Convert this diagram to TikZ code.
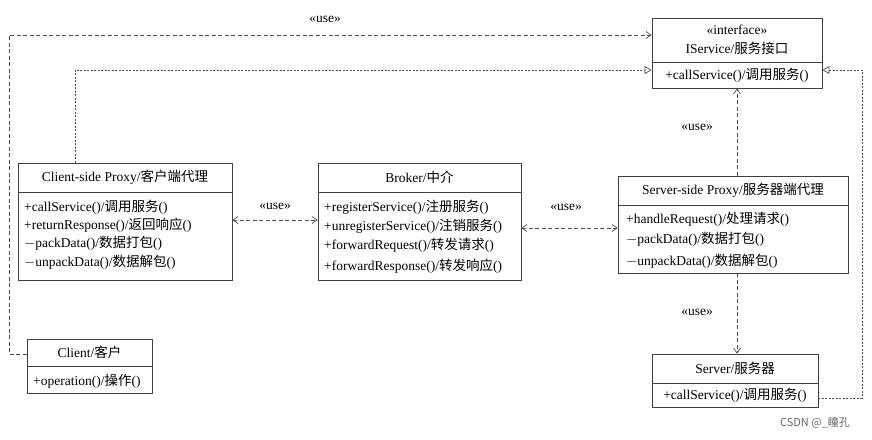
\documentclass[tikz,border=0pt]{standalone}
\usepackage{fontspec}
\setmainfont{Liberation Serif}
\newfontfamily\cjk{Noto Sans CJK SC}
\newcommand{\zh}[1]{{\cjk #1}}
\usetikzlibrary{arrows.meta}
\begin{document}
\begin{tikzpicture}[x=1pt,y=-1pt,font=\fontsize{13.5}{15}\selectfont,
  box/.style={draw=black!75,line width=0.8pt,fill=white},
  txt/.style={inner sep=0pt,anchor=west},
  ttl/.style={inner sep=0pt},
  dep/.style={draw=black!70,line width=0.7pt,dash pattern=on 4pt off 2.5pt,-{Straight Barb[length=5pt,width=7pt]}},
  dep2/.style={draw=black!70,line width=0.7pt,dash pattern=on 4pt off 2.5pt,{Straight Barb[length=5pt,width=7pt]}-{Straight Barb[length=5pt,width=7pt]}},
  real/.style={draw=black!70,line width=0.7pt,dash pattern=on 2pt off 1.5pt,-{Triangle[open,length=7pt,width=8pt]}},
  lbl/.style={inner sep=0pt}]
\fill[white] (0,0) rectangle (872,439);
% boxes
\node[box,minimum width=170,minimum height=70,inner sep=0pt] (isvc) at (737,53) {};
\draw[black!75,line width=0.8pt] (652,62) -- (822,62);
\node[ttl] at (737,30) {«interface»};
\node[ttl] at (737,48) {IService/\zh{服务接口}};
\node[ttl] at (737,75) {+callService()/\zh{调用服务}()};

\node[box,minimum width=214,minimum height=117,inner sep=0pt] (csp) at (125,221.5) {};
\draw[black!75,line width=0.8pt] (18,192) -- (232,192);
\node[ttl] at (125,177) {Client-side Proxy/\zh{客户端代理}};
\node[txt] at (24,207) {+callService()/\zh{调用服务}()};
\node[txt] at (24,225) {+returnResponse()/\zh{返回响应}()};
\node[txt] at (24,243) {$-$packData()/\zh{数据打包}()};
\node[txt] at (24,262) {$-$unpackData()/\zh{数据解包}()};

\node[box,minimum width=203,minimum height=117,inner sep=0pt] (brk) at (419.5,221.5) {};
\draw[black!75,line width=0.8pt] (318,192) -- (521,192);
\node[ttl] at (419.5,177) {Broker/\zh{中介}};
\node[txt] at (324,207) {+registerService()/\zh{注册服务}()};
\node[txt] at (324,226) {+unregisterService()/\zh{注销服务}()};
\node[txt] at (324,245) {+forwardRequest()/\zh{转发请求}()};
\node[txt] at (324,266) {+forwardResponse()/\zh{转发响应}()};

\node[box,minimum width=230,minimum height=97,inner sep=0pt] (ssp) at (733,224.5) {};
\draw[black!75,line width=0.8pt] (618,205) -- (848,205);
\node[ttl] at (733,190) {Server-side Proxy/\zh{服务器端代理}};
\node[txt] at (626,219) {+handleRequest()/\zh{处理请求}()};
\node[txt] at (626,239) {$-$packData()/\zh{数据打包}()};
\node[txt] at (626,261) {$-$unpackData()/\zh{数据解包}()};

\node[box,minimum width=125,minimum height=54,inner sep=0pt] (cli) at (89.5,366) {};
\draw[black!75,line width=0.8pt] (27,366) -- (152,366);
\node[ttl] at (89.5,352) {Client/\zh{客户}};
\node[txt] at (33,381) {+operation()/\zh{操作}()};

\node[box,minimum width=166,minimum height=53,inner sep=0pt] (srv) at (735,380.5) {};
\draw[black!75,line width=0.8pt] (652,383) -- (818,383);
\node[ttl] at (735,368) {Server/\zh{服务器}};
\node[ttl] at (735,395) {+callService()/\zh{调用服务}()};

% connectors
\coordinate (c1) at (9,354);
\coordinate (c2) at (9,35);
\draw[dep] (cli.west |- 0,354) -- (c1) -- (c2) -- (isvc.west |- 0,35);
\node[lbl] at (325,19) {«use»};

\coordinate (p1) at (75,70);
\draw[real] (csp.north -| 75,0) -- (p1) -- (isvc.west |- 0,70);

\coordinate (s1) at (862,398);
\coordinate (s2) at (862,70);
\draw[real] (srv.east |- 0,398) -- (s1) -- (s2) -- (isvc.east |- 0,70);

\draw[dep] (ssp.north -| 737,0) -- (isvc.south -| 737,0);
\node[lbl] at (697,127) {«use»};

\draw[dep2] (csp.east |- 0,220) -- (brk.west |- 0,220);
\node[lbl] at (275,206) {«use»};

\draw[dep2] (brk.east |- 0,228) -- (ssp.west |- 0,228);
\node[lbl] at (566,207) {«use»};

\draw[dep] (ssp.south -| 737,0) -- (srv.north -| 737,0);
\node[lbl] at (697,312) {«use»};

\node[lbl,font=\cjk\fontsize{11}{13}\selectfont,text=black!60] at (815,423) {CSDN @\_瞳孔};
\end{tikzpicture}
\end{document}
